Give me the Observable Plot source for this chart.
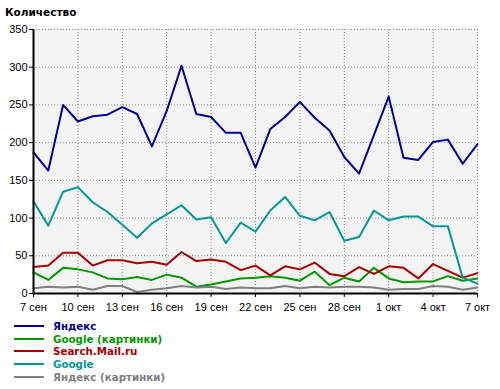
<!DOCTYPE html>
<html>
<head>
<meta charset="utf-8">
<script src="https://cdn.jsdelivr.net/npm/d3@7"></script>
<script src="https://cdn.jsdelivr.net/npm/@observablehq/plot@0.6"></script>
<style>
  html, body { margin: 0; padding: 0; background: #ffffff; }
  body { width: 500px; height: 389px; position: relative; overflow: hidden; }
  #title { height: 20px; font: bold 10.5px "DejaVu Sans", sans-serif; color: #000; padding-left: 5px; line-height: 24px; }
  #legend { padding-left: 14px; margin-top: 5px; }
  .item { height: 12.6px; display: flex; align-items: center; font: bold 10.3px "DejaVu Sans", sans-serif; }
  .swatch { width: 30px; height: 2px; margin-right: 9px; }
  svg { display: block; }
</style>
</head>
<body>
<div id="title">Количество</div>
<div id="chart"></div>
<div id="legend"></div>
<script>
const startDate = "2009-09-07";
const monthNames = ["янв","фев","мар","апр","май","июн","июл","авг","сен","окт","ноя","дек"];
const seriesNames = ["Яндекс", "Google (картинки)", "Search.Mail.ru", "Google", "Яндекс (картинки)"];
const seriesColors = ["#000099", "#009900", "#aa0000", "#009999", "#808080"];
const yTicks = [0, 50, 100, 150, 200, 250, 300, 350];

const yandex    = [187,163,250,228,235,237,247,238,195,242,302,238,234,213,213,167,218,234,254,233,216,181,159,210,261,180,177,201,204,172,198];
const googleImg = [28,18,34,32,28,20,19,22,18,25,21,9,12,16,20,21,23,21,17,29,11,21,16,34,20,15,16,16,23,17,20];
const mailRu    = [35,37,54,54,37,44,44,40,42,38,55,43,45,42,31,37,24,36,32,41,26,23,35,26,36,34,20,39,30,21,27];
const google    = [122,90,135,141,121,108,91,74,93,105,117,98,101,67,94,82,110,128,103,97,108,70,75,110,97,102,102,89,89,21,13];
const yandexImg = [7,9,8,9,5,10,10,2,5,7,10,8,9,6,8,7,7,10,7,9,8,9,9,8,5,6,6,10,9,5,8];

const allSeries = [yandex, googleImg, mailRu, google, yandexImg];
const start = new Date(startDate + "T00:00:00Z");
const dayOf = i => new Date(start.getTime() + i * 86400000);

const rows = [];
allSeries.forEach((vals, s) => vals.forEach((v, i) => rows.push({date: dayOf(i), value: v, series: seriesNames[s]})));

const nDays = yandex.length;
const xTicks = d3.range(0, nDays, 3).map(dayOf);
const fmt = d => `${d.getUTCDate()} ${monthNames[d.getUTCMonth()]}`;

const chart = Plot.plot({
  width: 500,
  height: 295,
  marginTop: 9,
  marginLeft: 33,
  marginRight: 23,
  marginBottom: 22,
  style: {fontFamily: "'Liberation Sans', Arial, sans-serif", fontSize: "11px", color: "#000", background: "transparent"},
  x: {type: "utc", domain: [dayOf(0), dayOf(nDays - 1)], label: null},
  y: {domain: [0, 350], label: null},
  color: {domain: seriesNames, range: seriesColors},
  marks: [
    Plot.frame({fill: "#f4f4f4", stroke: null}),
    Plot.gridX(xTicks, {stroke: "#888", strokeOpacity: 1, strokeDasharray: "1,2"}),
    Plot.gridY(yTicks, {stroke: "#888", strokeOpacity: 1, strokeDasharray: "1,2"}),
    Plot.line(rows, {x: "date", y: "value", z: "series", stroke: "series", strokeWidth: 2, curve: "linear"}),
    Plot.axisX(xTicks, {tickFormat: fmt, tickSize: 4, tickPadding: 6, stroke: "#000", fill: "#000", label: null}),
    Plot.axisY(yTicks, {tickSize: 4, tickPadding: 2, stroke: "#000", fill: "#000", label: null}),
    Plot.ruleX([dayOf(0)], {stroke: "#000", strokeWidth: 2}),
    Plot.ruleY([0], {stroke: "#000", strokeWidth: 2})
  ]
});
document.getElementById("chart").appendChild(chart);

const legend = document.getElementById("legend");
seriesNames.forEach((name, i) => {
  const item = document.createElement("div");
  item.className = "item";
  const sw = document.createElement("span");
  sw.className = "swatch";
  sw.style.background = seriesColors[i];
  const lab = document.createElement("span");
  lab.textContent = name;
  lab.style.color = seriesColors[i];
  item.appendChild(sw);
  item.appendChild(lab);
  legend.appendChild(item);
});
</script>
</body>
</html>
